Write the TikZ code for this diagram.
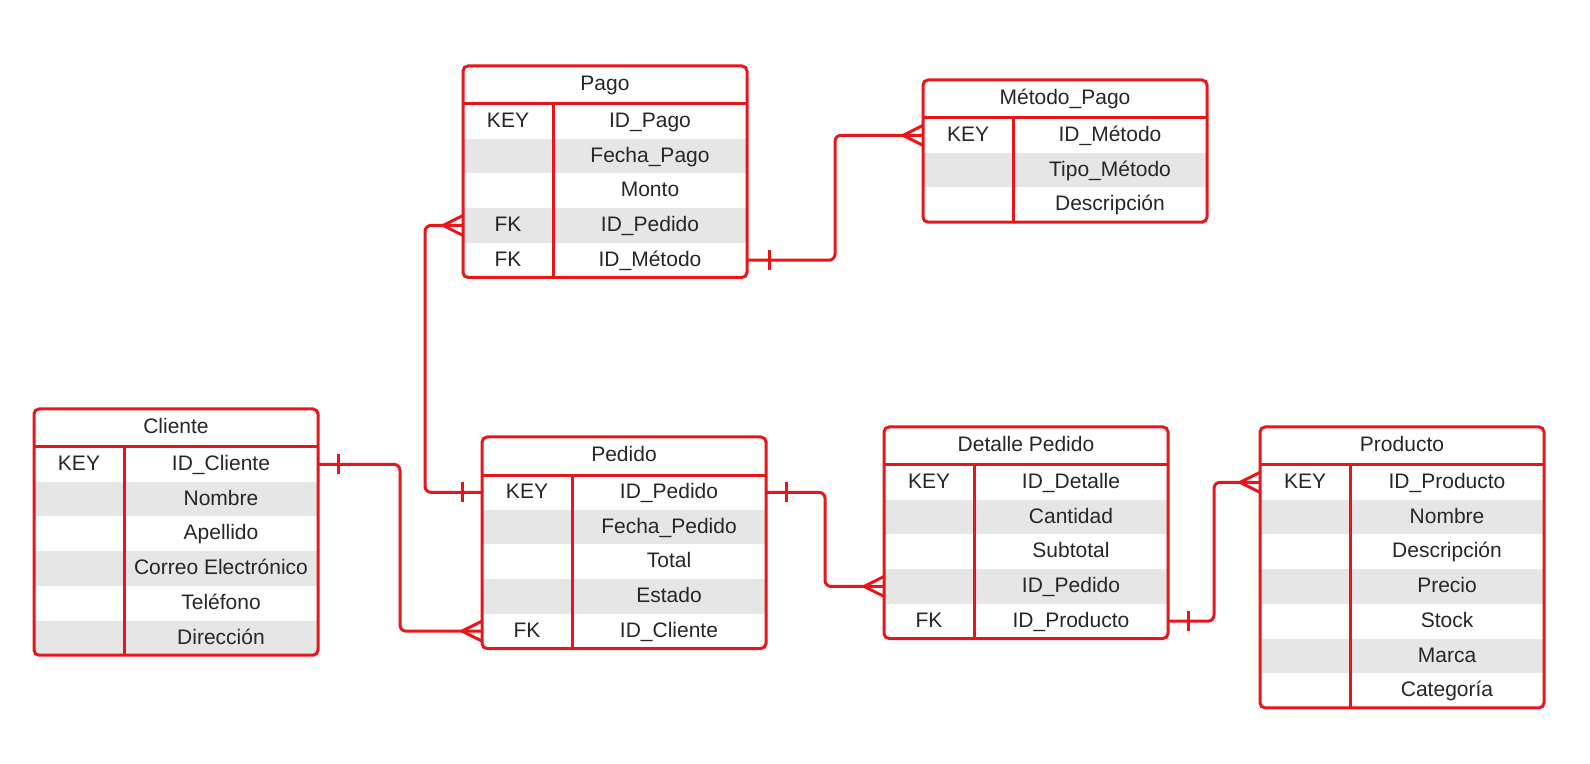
\documentclass[tikz,border=0pt]{standalone}
\usepackage{fontspec}
\setmainfont{Liberation Sans}
\usetikzlibrary{calc}
\definecolor{erred}{RGB}{230,22,26}
\definecolor{rowgray}{RGB}{230,230,230}
\definecolor{txtgray}{RGB}{38,38,38}

\begin{document}
\begin{tikzpicture}[
  x=0.5pt, y=-0.5pt,
  font=\fontsize{10.5}{12}\selectfont, text=txtgray,
  head/.style={rectangle, anchor=north west, minimum width=142pt, minimum height=19pt,
               text height=7.8pt, text depth=1.9pt, inner sep=0pt, outer sep=0pt},
  keycell/.style={rectangle, anchor=north west, minimum width=45pt, minimum height=17.35pt,
                  text height=8pt, text depth=1.8pt, inner sep=0pt, outer sep=0pt},
  fieldcell/.style={rectangle, anchor=west, minimum width=97pt, minimum height=17.35pt,
                    text height=8pt, text depth=1.8pt, inner sep=0pt, outer sep=0pt},
  row1/.style={fill=white},
  row0/.style={fill=rowgray},
  tbl/.style={draw=erred, line width=1.5pt, rounded corners=2.5pt},
  rel/.style={draw=erred, line width=1.5pt, rounded corners=3pt},
  relmark/.style={draw=erred, line width=1.5pt},
]
\useasboundingbox (0,0) rectangle (1590,764);

%% PAGO
\node[head] (pago) at (463,66) {Pago};
\foreach \k/\f [count=\i, evaluate={\i as \p using int(mod(\i,2))}] in
  {KEY/ID\_Pago, /Fecha\_Pago, /Monto, FK/ID\_Pedido, FK/ID\_Método}{
  \node[keycell, row\p] (pago-k\i) at ([yshift={-(\i-1)*17.35pt}]pago.south west) {\k};
  \node[fieldcell, row\p] (pago-f\i) at (pago-k\i.east) {\f};
}
\draw[tbl] (pago.north west) rectangle (pago-f5.south east);
\draw[tbl] (pago.south west) -- (pago.south east);
\draw[tbl] (pago-k1.north east) -- (pago-k5.south east);

%% METODO_PAGO
\node[head] (met) at (923,80) {Método\_Pago};
\foreach \k/\f [count=\i, evaluate={\i as \p using int(mod(\i,2))}] in
  {KEY/ID\_Método, /Tipo\_Método, /Descripción}{
  \node[keycell, row\p] (met-k\i) at ([yshift={-(\i-1)*17.35pt}]met.south west) {\k};
  \node[fieldcell, row\p] (met-f\i) at (met-k\i.east) {\f};
}
\draw[tbl] (met.north west) rectangle (met-f3.south east);
\draw[tbl] (met.south west) -- (met.south east);
\draw[tbl] (met-k1.north east) -- (met-k3.south east);

%% CLIENTE
\node[head] (cli) at (34,409) {Cliente};
\foreach \k/\f [count=\i, evaluate={\i as \p using int(mod(\i,2))}] in
  {KEY/ID\_Cliente, /Nombre, /Apellido, /Correo Electrónico, /Teléfono, /Dirección}{
  \node[keycell, row\p] (cli-k\i) at ([yshift={-(\i-1)*17.35pt}]cli.south west) {\k};
  \node[fieldcell, row\p] (cli-f\i) at (cli-k\i.east) {\f};
}
\draw[tbl] (cli.north west) rectangle (cli-f6.south east);
\draw[tbl] (cli.south west) -- (cli.south east);
\draw[tbl] (cli-k1.north east) -- (cli-k6.south east);

%% PEDIDO
\node[head] (ped) at (482,437) {Pedido};
\foreach \k/\f [count=\i, evaluate={\i as \p using int(mod(\i,2))}] in
  {KEY/ID\_Pedido, /Fecha\_Pedido, /Total, /Estado, FK/ID\_Cliente}{
  \node[keycell, row\p] (ped-k\i) at ([yshift={-(\i-1)*17.35pt}]ped.south west) {\k};
  \node[fieldcell, row\p] (ped-f\i) at (ped-k\i.east) {\f};
}
\draw[tbl] (ped.north west) rectangle (ped-f5.south east);
\draw[tbl] (ped.south west) -- (ped.south east);
\draw[tbl] (ped-k1.north east) -- (ped-k5.south east);

%% DETALLE PEDIDO
\node[head] (det) at (884,427) {Detalle Pedido};
\foreach \k/\f [count=\i, evaluate={\i as \p using int(mod(\i,2))}] in
  {KEY/ID\_Detalle, /Cantidad, /Subtotal, /ID\_Pedido, FK/ID\_Producto}{
  \node[keycell, row\p] (det-k\i) at ([yshift={-(\i-1)*17.35pt}]det.south west) {\k};
  \node[fieldcell, row\p] (det-f\i) at (det-k\i.east) {\f};
}
\draw[tbl] (det.north west) rectangle (det-f5.south east);
\draw[tbl] (det.south west) -- (det.south east);
\draw[tbl] (det-k1.north east) -- (det-k5.south east);

%% PRODUCTO
\node[head] (prod) at (1260,427) {Producto};
\foreach \k/\f [count=\i, evaluate={\i as \p using int(mod(\i,2))}] in
  {KEY/ID\_Producto, /Nombre, /Descripción, /Precio, /Stock, /Marca, /Categoría}{
  \node[keycell, row\p] (prod-k\i) at ([yshift={-(\i-1)*17.35pt}]prod.south west) {\k};
  \node[fieldcell, row\p] (prod-f\i) at (prod-k\i.east) {\f};
}
\draw[tbl] (prod.north west) rectangle (prod-f7.south east);
\draw[tbl] (prod.south west) -- (prod.south east);
\draw[tbl] (prod-k1.north east) -- (prod-k7.south east);

%% RELATIONS
% Cliente -> Pedido
\draw[rel] (cli-f1.east) -| ($(cli-f1.east)!.5!(ped-k5.west)$) |- (ped-k5.west);
\draw[relmark] ([xshift=10pt,yshift=5pt]cli-f1.east) -- ([xshift=10pt,yshift=-5pt]cli-f1.east);
\draw[relmark] ([yshift=5pt]ped-k5.west) -- ([xshift=-10pt]ped-k5.west) -- ([yshift=-5pt]ped-k5.west);

% Pedido -> Pago
\draw[rel] (ped-k1.west) -| ([xshift=-19pt]pago-k4.west) -- (pago-k4.west);
\draw[relmark] ([xshift=-10pt,yshift=5pt]ped-k1.west) -- ([xshift=-10pt,yshift=-5pt]ped-k1.west);
\draw[relmark] ([yshift=5pt]pago-k4.west) -- ([xshift=-10pt]pago-k4.west) -- ([yshift=-5pt]pago-k4.west);

% Pago -> Metodo_Pago
\draw[rel] (pago-f5.east) -| ($(pago-f5.east)!.5!(met-k1.west)$) |- (met-k1.west);
\draw[relmark] ([xshift=11pt,yshift=5pt]pago-f5.east) -- ([xshift=11pt,yshift=-5pt]pago-f5.east);
\draw[relmark] ([yshift=5pt]met-k1.west) -- ([xshift=-10pt]met-k1.west) -- ([yshift=-5pt]met-k1.west);

% Pedido -> Detalle Pedido
\draw[rel] (ped-f1.east) -| ($(ped-f1.east)!.5!(det-k4.west)$) |- (det-k4.west);
\draw[relmark] ([xshift=10pt,yshift=5pt]ped-f1.east) -- ([xshift=10pt,yshift=-5pt]ped-f1.east);
\draw[relmark] ([yshift=5pt]det-k4.west) -- ([xshift=-10pt]det-k4.west) -- ([yshift=-5pt]det-k4.west);

% Detalle Pedido -> Producto
\draw[rel] (det-f5.east) -| ($(det-f5.east)!.5!(prod-k1.west)$) |- (prod-k1.west);
\draw[relmark] ([xshift=10pt,yshift=5pt]det-f5.east) -- ([xshift=10pt,yshift=-5pt]det-f5.east);
\draw[relmark] ([yshift=5pt]prod-k1.west) -- ([xshift=-10pt]prod-k1.west) -- ([yshift=-5pt]prod-k1.west);

\end{tikzpicture}
\end{document}
